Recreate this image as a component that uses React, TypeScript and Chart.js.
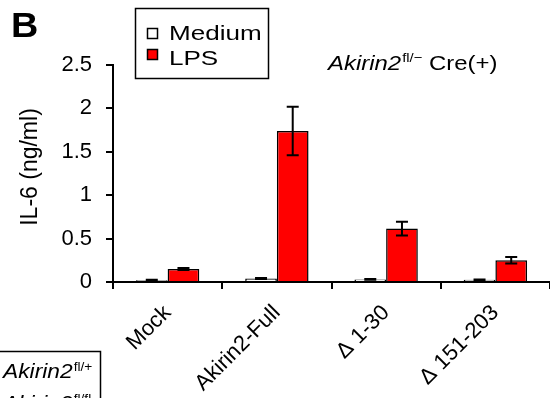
import React, { useEffect, useRef } from "react";
import { Chart, registerables } from "chart.js";

Chart.register(...registerables);

const categories = ["Mock", "Akirin2-Full", "\u0394 1-30", "\u0394 151-203"];
const mediumValues = [0.02, 0.04, 0.03, 0.025];
const mediumErrors = [0.005, 0.006, 0.005, 0.005];
const lpsValues = [0.15, 1.74, 0.615, 0.25];
const lpsErrors = [0.012, 0.28, 0.08, 0.037];
const yTicks = [0, 0.5, 1, 1.5, 2, 2.5];

const FONT = '"Liberation Sans", Arial, Helvetica, sans-serif';

const errorBarPlugin = {
  id: "errorBars",
  afterDatasetsDraw(chart: any) {
    const ctx = chart.ctx;
    const yScale = chart.scales.y;
    const errs = [mediumErrors, lpsErrors];
    ctx.save();
    ctx.strokeStyle = "#000";
    ctx.lineWidth = 2;
    chart.data.datasets.forEach((ds: any, di: number) => {
      const meta = chart.getDatasetMeta(di);
      meta.data.forEach((bar: any, i: number) => {
        const v = ds.data[i];
        const e = errs[di][i];
        const yTop = yScale.getPixelForValue(v + e);
        const yBot = yScale.getPixelForValue(v - e);
        const x = bar.x;
        const cap = 6;
        ctx.beginPath();
        ctx.moveTo(x, yTop);
        ctx.lineTo(x, yBot);
        ctx.moveTo(x - cap, yTop);
        ctx.lineTo(x + cap, yTop);
        ctx.moveTo(x - cap, yBot);
        ctx.lineTo(x + cap, yBot);
        ctx.stroke();
      });
    });
    ctx.restore();
  },
};

function text(ctx: CanvasRenderingContext2D, s: string, x: number, y: number, font: string, sx: number) {
  ctx.save();
  ctx.font = font;
  ctx.translate(x, y);
  ctx.scale(sx, 1);
  ctx.fillText(s, 0, 0);
  const w = ctx.measureText(s).width * sx;
  ctx.restore();
  return w;
}

function drawSup(ctx: CanvasRenderingContext2D, x: number, y: number, base: string, sup: string, size: number, sx: number, rest?: string) {
  let cx = x + text(ctx, base, x, y, `italic ${size}px ${FONT}`, sx) + 1;
  const supSize = Math.round(size * 0.62);
  cx += text(ctx, sup, cx, y - size * 0.36, `${supSize}px ${FONT}`, sx);
  if (rest) text(ctx, rest, cx, y, `${size}px ${FONT}`, sx);
}

const decorPlugin = {
  id: "decor",
  afterDraw(chart: any) {
    const ctx: CanvasRenderingContext2D = chart.ctx;
    ctx.save();
    ctx.fillStyle = "#000";
    ctx.textBaseline = "alphabetic";
    ctx.textAlign = "left";

    // Panel letter
    text(ctx, "B", 11, 37, `bold 35px ${FONT}`, 1.08);

    // Y axis title
    ctx.save();
    ctx.translate(37, 167);
    ctx.rotate(-Math.PI / 2);
    ctx.textAlign = "center";
    ctx.font = `23px ${FONT}`;
    ctx.fillText("IL-6 (ng/ml)", 0, 0);
    ctx.restore();

    // Legend box
    ctx.lineWidth = 1.5;
    ctx.strokeStyle = "#000";
    ctx.strokeRect(135.5, 8.5, 133, 70);
    ctx.fillStyle = "#fff";
    ctx.fillRect(147.5, 28.5, 10, 10);
    ctx.strokeRect(147.5, 28.5, 10, 10);
    ctx.fillStyle = "#ff0000";
    ctx.fillRect(147.5, 49.5, 10, 10);
    ctx.strokeRect(147.5, 49.5, 10, 10);
    ctx.fillStyle = "#000";
    text(ctx, "Medium", 169, 40, `21px ${FONT}`, 1.24);
    text(ctx, "LPS", 169, 65, `21px ${FONT}`, 1.24);

    // Annotation
    drawSup(ctx, 328, 70, "Akirin2", "fl/\u2212", 21, 1.14, " Cre(+)");

    // Bottom-left box
    ctx.lineWidth = 1.5;
    ctx.strokeRect(-1, 351.5, 101.5, 60);
    drawSup(ctx, 3, 378, "Akirin2", "fl/+", 20, 1.14);
    drawSup(ctx, 3, 410, "Akirin2", "fl/fl", 20, 1.14);

    ctx.restore();
  },
};

export default function App() {
  const ref = useRef<HTMLCanvasElement | null>(null);
  useEffect(() => {
    if (!ref.current) return;
    const chart = new Chart(ref.current, {
      type: "bar",
      data: {
        labels: categories,
        datasets: [
          {
            label: "Medium",
            data: mediumValues,
            backgroundColor: "#ffffff",
            borderColor: "#000000",
            borderWidth: 1.5,
            barPercentage: 1,
            categoryPercentage: 0.58,
          },
          {
            label: "LPS",
            data: lpsValues,
            backgroundColor: "#ff0000",
            borderColor: "#000000",
            borderWidth: 1.5,
            barPercentage: 1,
            categoryPercentage: 0.58,
          },
        ],
      },
      options: {
        responsive: false,
        animation: false,
        devicePixelRatio: 1,
        layout: { padding: { left: 0, top: 65, right: 0, bottom: 0 } },
        plugins: {
          legend: { display: false },
          tooltip: { enabled: false },
          title: { display: false },
        },
        scales: {
          x: {
            offset: true,
            grid: {
              offset: true,
              drawOnChartArea: false,
              drawTicks: true,
              tickLength: 7,
              color: "#000",
              lineWidth: 2,
            },
            border: { display: true, color: "#000", width: 2 },
            ticks: {
              color: "#000",
              font: { family: FONT, size: 22 },
              minRotation: 45,
              maxRotation: 45,
              padding: 11,
              autoSkip: false,
            },
            afterFit: (s: any) => {
              s.height = 116;
            },
          },
          y: {
            min: 0,
            max: 2.5,
            afterBuildTicks: (s: any) => {
              s.ticks = yTicks.map((v) => ({ value: v }));
            },
            grid: {
              drawOnChartArea: false,
              drawTicks: true,
              tickLength: 7,
              color: "#000",
              lineWidth: 2,
            },
            border: { display: true, color: "#000", width: 2 },
            ticks: {
              color: "#000",
              font: { family: FONT, size: 22 },
              padding: 14,
              callback: (v: any) => String(v),
            },
            afterFit: (s: any) => {
              s.width = 113;
            },
          },
        },
      },
      plugins: [errorBarPlugin, decorPlugin],
    });
    return () => chart.destroy();
  }, []);
  return (
    <div style={{ position: "fixed", left: 0, top: 0, width: 550, height: 398, background: "#fff" }}>
      <canvas ref={ref} width={550} height={398} style={{ display: "block" }} />
    </div>
  );
}
